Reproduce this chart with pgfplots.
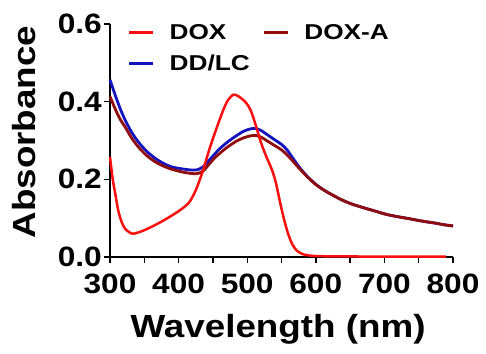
\documentclass[border=0pt]{standalone}
\usepackage{pgfplots}
\pgfplotsset{compat=1.18}
\usepackage{fontspec}
\setmainfont{Liberation Sans}[FakeStretch=1.13]
\newfontfamily\labfont{Liberation Sans}[FakeStretch=1.15]
\newfontfamily\legfont{Liberation Sans}[FakeStretch=1.22]
\definecolor{cdox}{RGB}{250,15,15}
\definecolor{cdd}{RGB}{20,20,190}
\definecolor{cdoxa}{RGB}{145,12,12}
\begin{document}
\begin{tikzpicture}
\begin{axis}[
  scale only axis, width=343pt, height=233pt,
  xmin=300, xmax=800, ymin=0, ymax=0.6,
  axis lines=left, axis line style={-, line width=1.8pt},
  xtick={300,400,...,800}, minor x tick num=1,
  ytick={0,0.2,0.4,0.6},
  tick align=outside, major tick length=6pt, minor tick length=6pt,
  every tick/.style={line width=1.4pt, black},
  /pgf/number format/assume math mode=true,
  yticklabel style={/pgf/number format/fixed, /pgf/number format/precision=1, /pgf/number format/fixed zerofill, inner sep=0pt, anchor=east, xshift=-2pt},
  xticklabel style={/pgf/number format/1000 sep={}, inner sep=0pt, anchor=north, yshift=-11pt},
  tick label style={font=\bfseries\fontsize{28}{28}\selectfont},
  xlabel={Wavelength (nm)}, ylabel={Absorbance},
  xlabel style={at={(axis description cs:0.49,-0.312)}, anchor=center, inner sep=0pt},
  ylabel style={at={(axis description cs:-0.251,0.536)}, anchor=center, inner sep=0pt},
  label style={font=\labfont\bfseries\fontsize{32}{32}\selectfont},
  legend columns=2,
  legend style={at={(axis description cs:0.052,1.0)}, anchor=north west, draw=none, fill=none, inner sep=0pt,
    font=\legfont\bfseries\fontsize{21.5}{21.5}\selectfont, row sep=14pt,
    nodes={inner sep=0pt},
    /tikz/every odd column/.append style={column sep=15pt},
    /tikz/every even column/.append style={column sep=13pt}},
  legend image code/.code={\draw[#1] (0pt,0pt) -- (24pt,0pt);},
  legend cell align=left,
  clip=false,
]
\coordinate (O) at (axis cs:300,0);
\addlegendimage{cdox, line width=2.6pt}\addlegendentry{DOX}
\addlegendimage{cdoxa, line width=2.6pt}\addlegendentry{DOX-A}
\addlegendimage{cdd, line width=2.6pt}\addlegendentry{DD/LC}
\addplot[cdd, line width=2.8pt, smooth, forget plot] coordinates {
(300,0.456)(306,0.425)(311,0.400)(316,0.377)(322,0.353)(331,0.323)(341,0.297)(353,0.273)
(366,0.254)(378,0.241)(390,0.232)(405,0.227)(419,0.224)(428,0.225)(436,0.233)(444,0.248)
(452,0.264)(460,0.279)(472,0.297)(484,0.312)(495,0.324)(505,0.330)(512,0.331)(520,0.326)
(530,0.314)(540,0.302)(550,0.290)(558,0.276)(566,0.256)(577,0.229)(589,0.205)(601,0.186)
(613,0.171)(626,0.158)(638,0.147)(650,0.138)(662,0.131)(675,0.124)(687,0.118)(698,0.112)
(710,0.107)(722,0.103)(735,0.099)(747,0.095)(760,0.091)(775,0.087)(787,0.083)(800,0.080)
};
\addplot[cdoxa, line width=2.8pt, smooth, forget plot] coordinates {
(300,0.413)(306,0.388)(311,0.368)(316,0.351)(322,0.335)(331,0.308)(341,0.284)(353,0.262)
(366,0.245)(378,0.234)(390,0.226)(405,0.219)(419,0.215)(428,0.215)(436,0.222)(444,0.238)
(452,0.254)(460,0.267)(472,0.284)(484,0.298)(495,0.307)(505,0.312)(512,0.313)(520,0.309)
(530,0.298)(540,0.287)(550,0.276)(558,0.263)(566,0.248)(577,0.226)(589,0.204)(601,0.185)
(613,0.171)(626,0.158)(638,0.147)(650,0.138)(662,0.131)(675,0.124)(687,0.118)(698,0.112)
(710,0.107)(722,0.103)(735,0.099)(747,0.095)(760,0.091)(775,0.087)(787,0.083)(800,0.080)
};
\addplot[cdox, line width=2.5pt, smooth, forget plot] coordinates {
(300,0.258)(304,0.200)(308,0.160)(312,0.120)(317,0.090)(322,0.073)(328,0.064)(334,0.060)
(350,0.069)(375,0.091)(400,0.118)(415,0.140)(425,0.172)(435,0.220)(445,0.278)
(455,0.330)(465,0.378)(472,0.404)(480,0.418)(488,0.413)(498,0.398)(505,0.378)
(512,0.342)(520,0.295)(528,0.258)(536,0.225)(542,0.190)(548,0.140)(554,0.095)
(560,0.058)(566,0.032)(572,0.017)(580,0.008)(590,0.004)(610,0.002)(700,0.001)(790,0.001)
};
\end{axis}
\path (O) ++(-110pt,-96pt) rectangle ++(486pt,353pt);
\end{tikzpicture}
\end{document}
